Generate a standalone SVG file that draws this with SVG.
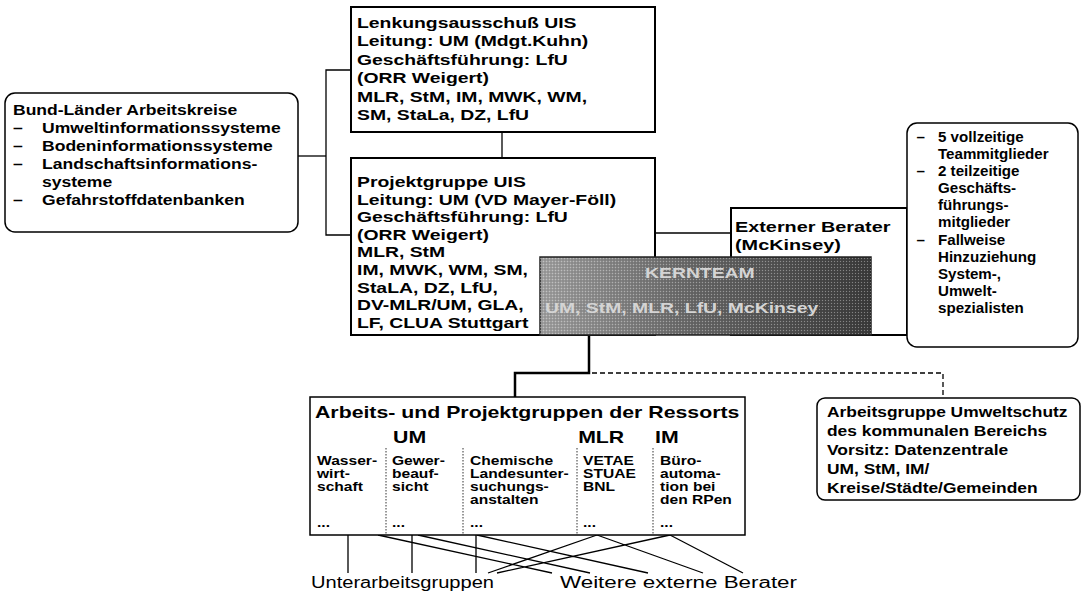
<svg xmlns="http://www.w3.org/2000/svg" width="1085" height="602" viewBox="0 0 1085 602">
<style>
.box{fill:#fff;stroke:#000;stroke-width:2}
.rbox{fill:#fff;stroke:#000;stroke-width:1.5}
.conn{fill:none;stroke:#000;stroke-width:1.3}
.thick{fill:none;stroke:#000;stroke-width:2.5}
.dash{fill:none;stroke:#000;stroke-width:1.3;stroke-dasharray:5 3}
.dot{fill:none;stroke:#333;stroke-width:1;stroke-dasharray:1.5 1.5}
.b{font-family:"Liberation Sans",Arial,sans-serif;font-weight:bold;fill:#000}
.n{font-family:"Liberation Sans",Arial,sans-serif;font-weight:normal;fill:#000}
.f155{font-size:15.5px}
.f145{font-size:14.5px}
.f14{font-size:14px}
.f12{font-size:12px}
.f165{font-size:16.5px}
.f16{font-size:16px}
.kt{fill:#d4d4d4}
</style>
<defs>
<linearGradient id="kg" x1="0" y1="0" x2="1" y2="0">
<stop offset="0" stop-color="#a2a2a2"/>
<stop offset="0.45" stop-color="#6a6a6a"/>
<stop offset="1" stop-color="#3c3c3c"/>
</linearGradient>
<pattern id="stip" width="3" height="3" patternUnits="userSpaceOnUse">
<rect x="0" y="0" width="1" height="1" fill="#fff" fill-opacity="0.35"/>
<rect x="1.5" y="1.5" width="1" height="1" fill="#000" fill-opacity="0.3"/>
</pattern>
</defs>

<g id="connectors">
<path class="conn" d="M351,70 H326 V235 H351"/>
<path class="conn" d="M298,156 H326"/>
<path class="conn" d="M502,132 V158"/>
<path class="conn" d="M655,233 H731"/>
<path class="thick" d="M589,335 V373 H515 V397"/>
<path class="dash" d="M592,373 H943 V398"/>
<path class="conn" d="M348,535 V573 M412,535 V573 M476,535 V573"/>
<path class="conn" d="M378,535 L552,573 M418,535 L590,573 M477,535 L648,573 M597,535 L703,573 M670,535 L743,573 M597,535 L488,573 M670,535 L497,573"/>
</g>

<g id="bund">
<rect class="rbox" x="5" y="93" width="293" height="139" rx="10"/>
<g class="b f145" transform="translate(13 0) scale(1.21 1)">
<text y="115">Bund-Länder Arbeitskreise</text>
<text y="133">–</text><text x="24" y="133">Umweltinformationssysteme</text>
<text y="151">–</text><text x="24" y="151">Bodeninformationssysteme</text>
<text y="169">–</text><text x="24" y="169">Landschaftsinformations-</text>
<text x="24" y="187">systeme</text>
<text y="205">–</text><text x="24" y="205">Gefahrstoffdatenbanken</text>
</g>
</g>

<g id="lenkung">
<rect class="box" x="351" y="7" width="304" height="125"/>
<g class="b f155" transform="translate(357 0) scale(1.25 1)">
<text y="28">Lenkungsausschuß UIS</text>
<text y="46.5">Leitung: UM (Mdgt.Kuhn)</text>
<text y="65">Geschäftsführung: LfU</text>
<text y="83.5">(ORR Weigert)</text>
<text y="102">MLR, StM, IM, MWK, WM,</text>
<text y="120.5">SM, StaLa, DZ, LfU</text>
</g>
</g>

<g id="extern">
<rect class="box" x="731" y="208" width="176" height="127"/>
<g class="b f155" transform="translate(735 0) scale(1.28 1)">
<text y="232">Externer Berater</text>
<text y="250">(McKinsey)</text>
</g>
</g>

<g id="projekt">
<rect class="box" x="351" y="158" width="304" height="177"/>
<g class="b f155" transform="translate(357 0) scale(1.25 1)">
<text y="187">Projektgruppe UIS</text>
<text y="204.6">Leitung: UM (VD Mayer-Föll)</text>
<text y="222.2">Geschäftsführung: LfU</text>
<text y="239.8">(ORR Weigert)</text>
<text y="257.4">MLR, StM</text>
<text y="275">IM, MWK, WM, SM,</text>
<text y="292.6">StaLA, DZ, LfU,</text>
<text y="310.2">DV-MLR/UM, GLA,</text>
<text y="327.8">LF, CLUA Stuttgart</text>
</g>
</g>

<g id="kernteam">
<rect x="540" y="257" width="331" height="78" fill="url(#kg)" stroke="#222" stroke-width="1.5"/>
<rect x="540" y="257" width="331" height="78" fill="url(#stip)"/>
<g class="b f155 kt" transform="translate(645 0) scale(1.25 1)">
<text class="kt" y="278">KERNTEAM</text>
</g>
<g class="b f155" transform="translate(545 0) scale(1.25 1)">
<text class="kt" y="313">UM, StM, MLR, LfU, McKinsey</text>
</g>
</g>

<g id="team">
<rect class="rbox" x="907" y="123" width="171" height="224" rx="10"/>
<g class="b f14" transform="translate(938 0) scale(1.08 1)">
<text x="-20" y="142">–</text><text y="142">5 vollzeitige</text>
<text y="159">Teammitglieder</text>
<text x="-20" y="176">–</text><text y="176">2 teilzeitige</text>
<text y="193">Geschäfts-</text>
<text y="210">führungs-</text>
<text y="227">mitglieder</text>
<text x="-20" y="245">–</text><text y="245">Fallweise</text>
<text y="262">Hinzuziehung</text>
<text y="279">System-,</text>
<text y="296">Umwelt-</text>
<text y="313">spezialisten</text>
</g>
</g>

<g id="ressorts">
<rect class="rbox" x="310" y="397" width="435" height="138"/>
<g class="b f165" transform="translate(315 0) scale(1.29 1)">
<text y="418">Arbeits- und Projektgruppen der Ressorts</text>
<text x="60.5" y="443">UM</text>
<text x="204" y="443">MLR</text>
<text x="263.6" y="443">IM</text>
</g>
<path class="dot" d="M386,448 V535 M463,448 V535 M577,448 V535 M653,448 V535"/>
<g class="b f12" transform="translate(317 0) scale(1.3 1)">
<text y="465">Wasser-</text><text y="478">wirt-</text><text y="491">schaft</text><text y="527">...</text>
</g>
<g class="b f12" transform="translate(392 0) scale(1.3 1)">
<text y="465">Gewer-</text><text y="478">beauf-</text><text y="491">sicht</text><text y="527">...</text>
</g>
<g class="b f12" transform="translate(470 0) scale(1.3 1)">
<text y="465">Chemische</text><text y="478">Landesunter-</text><text y="491">suchungs-</text><text y="504">anstalten</text><text y="527">...</text>
</g>
<g class="b f12" transform="translate(583 0) scale(1.3 1)">
<text y="465">VETAE</text><text y="478">STUAE</text><text y="491">BNL</text><text y="527">...</text>
</g>
<g class="b f12" transform="translate(660 0) scale(1.3 1)">
<text y="465">Büro-</text><text y="478">automa-</text><text y="491">tion bei</text><text y="504">den RPen</text><text y="527">...</text>
</g>
</g>

<g id="kommunal">
<rect class="rbox" x="817" y="398" width="263" height="102" rx="8"/>
<g class="b f145" transform="translate(827 0) scale(1.2 1)">
<text y="417">Arbeitsgruppe Umweltschutz</text>
<text y="436">des kommunalen Bereichs</text>
<text y="455">Vorsitz: Datenzentrale</text>
<text y="474">UM, StM, IM/</text>
<text y="493">Kreise/Städte/Gemeinden</text>
</g>
</g>

<g id="labels">
<text class="n f16" x="311" y="588" textLength="183" lengthAdjust="spacingAndGlyphs">Unterarbeitsgruppen</text>
<text class="n f16" x="560" y="588" textLength="237" lengthAdjust="spacingAndGlyphs">Weitere externe Berater</text>
</g>
</svg>
